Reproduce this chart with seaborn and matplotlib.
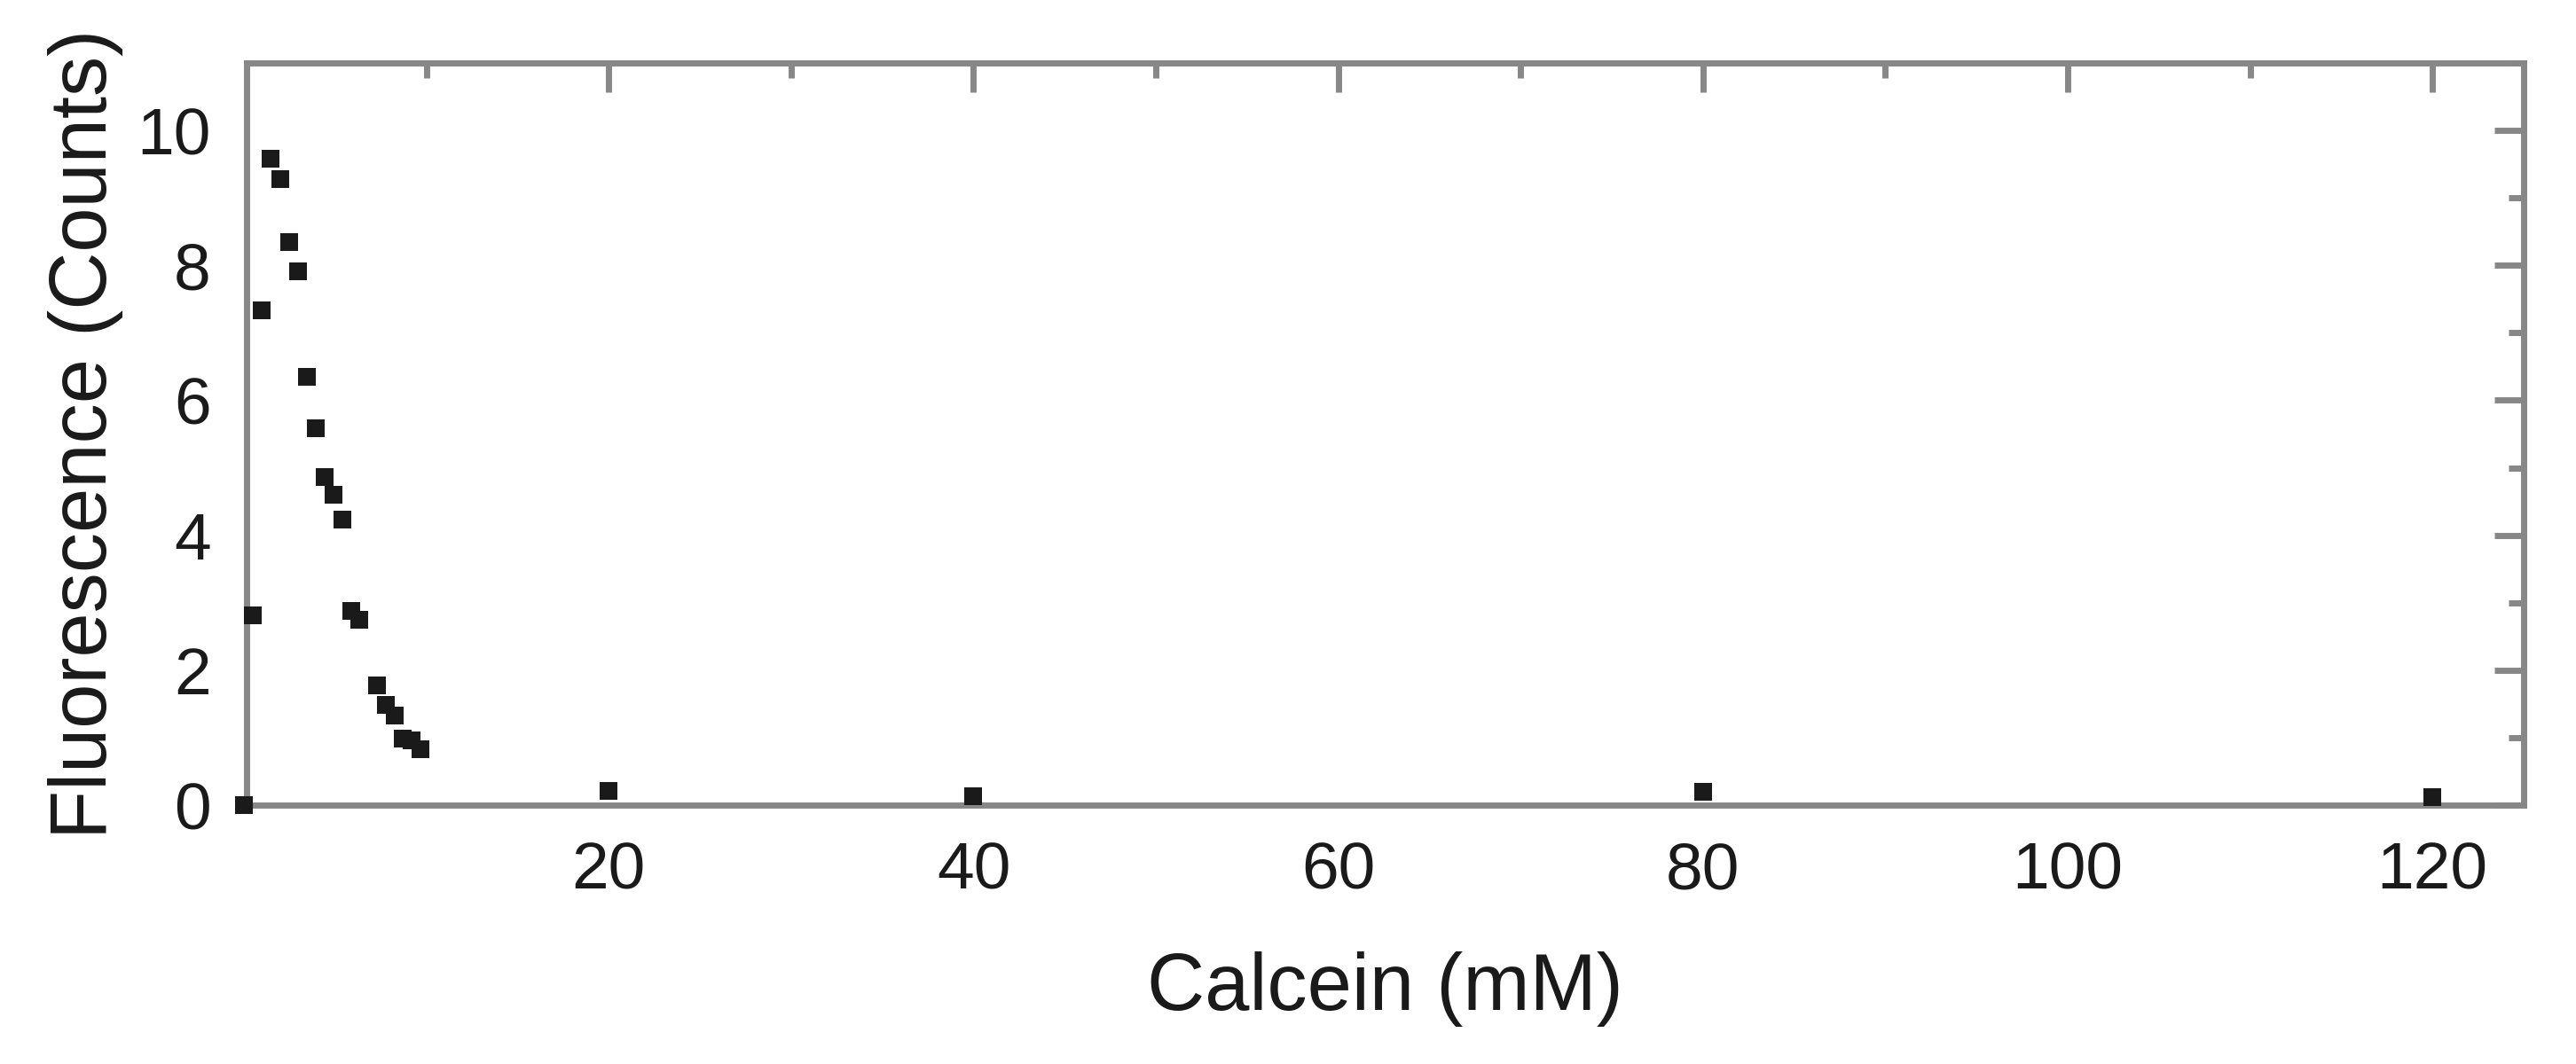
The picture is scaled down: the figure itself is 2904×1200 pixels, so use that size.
import numpy as np
import pandas as pd
import matplotlib
matplotlib.use('Agg')
import matplotlib.pyplot as plt
from matplotlib.ticker import MultipleLocator
import seaborn as sns

##################################################################
# data
calcein = [0.0, 0.49, 0.98, 1.46, 2.0, 2.49, 2.97, 3.46, 3.95, 4.43, 4.92,
           5.40, 5.89, 6.33, 7.30, 7.79, 8.28, 8.71, 9.20, 9.69,
           20.0, 40.0, 80.0, 120.0]
fluorescence = [0.0, 2.81, 7.33, 9.58, 9.28, 8.35, 7.91, 6.35, 5.59, 4.86, 4.60,
                4.23, 2.88, 2.75, 1.78, 1.48, 1.33, 0.99, 0.96, 0.83,
                0.21, 0.13, 0.20, 0.12]
xticks = [20, 40, 60, 80, 100, 120]
yticks = [0, 2, 4, 6, 8, 10]
##################################################################

sns.set_theme(style='white')
plt.rcParams['font.family'] = ['Liberation Sans', 'DejaVu Sans']
plt.rcParams['text.color'] = 'k'
plt.rcParams['axes.labelcolor'] = 'k'

grey = '#878787'
df = pd.DataFrame({'Calcein (mM)': calcein, 'Fluorescence (Counts)': fluorescence})

fig = plt.figure(figsize=(29.04, 12), dpi=100)
ax = fig.add_subplot(111)
sns.scatterplot(data=df, x='Calcein (mM)', y='Fluorescence (Counts)', ax=ax,
                marker='s', s=228, color='k', linewidth=0, clip_on=False, zorder=5)

ax.set_xlim(0.14, 125)
ax.set_ylim(0, 11)
ax.set_xticks(xticks)
ax.set_yticks(yticks)
ax.xaxis.set_minor_locator(MultipleLocator(10))
ax.yaxis.set_minor_locator(MultipleLocator(1))

for sp in ax.spines.values():
    sp.set_visible(True)
    sp.set_color(grey)
    sp.set_linewidth(5)

ax.tick_params(which='both', direction='in', top=True, right=True, color=grey,
               width=5, labelsize=54, pad=29, labelcolor='k')
ax.tick_params(which='major', length=24)
ax.tick_params(which='minor', length=12)

fz = 65
ax.set_xlabel('Calcein (mM)', fontsize=fz, labelpad=40, color='k')
ax.set_ylabel('Fluorescence (Counts)', fontsize=fz, labelpad=11, color='k')

fig.subplots_adjust(left=0.0957, right=0.9797, top=0.9408, bottom=0.2433)
plt.savefig('out.png', dpi=100)
